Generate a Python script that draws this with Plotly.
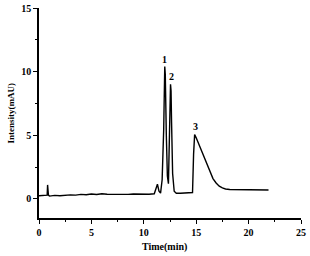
import plotly.graph_objects as go

time_min = [0, 0.3, 0.6, 0.78, 0.82, 0.86, 0.9, 1.0, 1.5, 2.0, 2.5, 3.0, 3.5, 4.0, 4.5,
            5.0, 5.5, 6.0, 6.5, 7.0, 7.5, 8.0, 8.5, 9.0, 9.5, 10.0, 10.5, 11.0, 11.15,
            11.3, 11.45, 11.6, 11.75, 11.9, 12.0, 12.05, 12.15, 12.25, 12.35, 12.45,
            12.55, 12.6, 12.65, 12.75, 12.9, 13.1, 13.5, 14.0, 14.5, 14.65, 14.75,
            14.85, 15.0, 15.35, 15.7, 16.0, 16.3, 16.6, 16.9, 17.2, 17.5, 17.8, 18.2,
            18.6, 19.0, 19.5, 20.0, 20.5, 21.0, 21.5, 21.9]
intensity = [0.25, 0.27, 0.28, 0.30, 1.10, 0.60, 0.30, 0.22, 0.28, 0.25, 0.30, 0.32, 0.30,
             0.36, 0.33, 0.38, 0.35, 0.40, 0.37, 0.36, 0.40, 0.38, 0.36, 0.38, 0.36, 0.38,
             0.37, 0.40, 0.70, 1.15, 0.60, 0.45, 1.50, 5.50, 10.40, 9.80, 5.00, 1.80, 1.20,
             4.50, 9.00, 8.50, 6.00, 2.00, 0.60, 0.45, 0.45, 0.45, 0.45, 0.50, 3.50, 5.05,
             4.80, 4.10, 3.30, 2.70, 2.10, 1.60, 1.25, 1.00, 0.86, 0.78, 0.74, 0.73, 0.72,
             0.71, 0.70, 0.71, 0.69, 0.68, 0.70]

peak_labels = ["1", "2", "3"]
peak_x = [12.0, 12.6, 14.9]
peak_y = [10.95, 9.6, 5.7]

font_family = "Liberation Serif"

fig = go.Figure()
fig.add_trace(go.Scatter(x=time_min, y=intensity, mode="lines",
                         line=dict(color="black", width=1.4), showlegend=False))

for lab, px, py in zip(peak_labels, peak_x, peak_y):
    fig.add_annotation(x=px, y=py, text="<b>" + lab + "</b>", showarrow=False,
                       font=dict(family=font_family, size=10, color="black"))

axis_common = dict(showline=True, linecolor="black", linewidth=1.6, ticks="outside",
                   ticklen=4, tickwidth=1.3, tickcolor="black", showgrid=False,
                   zeroline=False, mirror=False, automargin=False,
                   tickfont=dict(family=font_family, size=10, color="black", weight="bold"),
                   minor=dict(ticks="outside", ticklen=2, tickwidth=1.2, tickcolor="black",
                              dtick=2.5))

fig.update_xaxes(range=[0, 25], dtick=5, tick0=0, **axis_common)
fig.update_yaxes(range=[-1.5, 15], dtick=5, tick0=0, **axis_common)

fig.add_annotation(text="<b>Time(min)</b>", xref="paper", yref="paper", x=0.48, y=-0.1,
                   xanchor="center", yanchor="top", showarrow=False,
                   font=dict(family=font_family, size=10, color="black"))
fig.add_annotation(text="<b>Intensity(mAU)</b>", xref="paper", yref="paper", x=-0.105,
                   y=0.5, xanchor="center", yanchor="middle", textangle=-90,
                   showarrow=False,
                   font=dict(family=font_family, size=9, color="black"))

fig.update_layout(width=310, height=256, margin=dict(l=39, r=9, t=8, b=38),
                  plot_bgcolor="white", paper_bgcolor="white")

fig.write_html("out.html", config={"displayModeBar": False},
               post_script="document.body.style.margin='0';")
